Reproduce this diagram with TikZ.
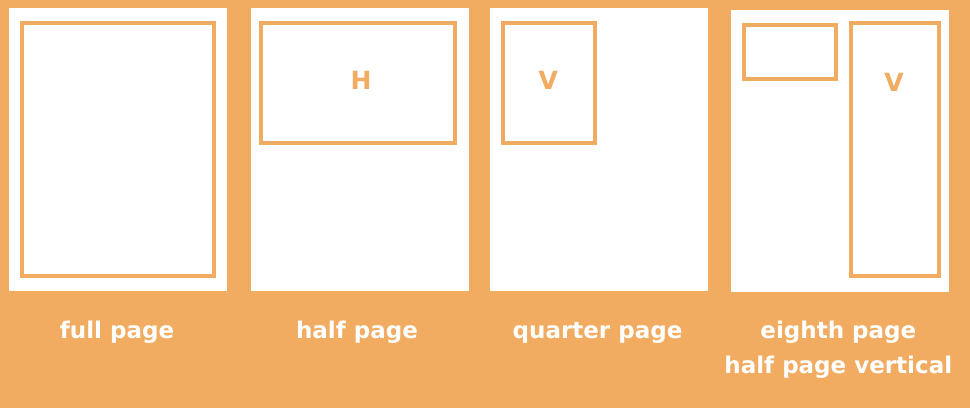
\documentclass[tikz,border=0pt]{standalone}
\usepackage{fontspec}
\setmainfont{DejaVu Sans}
\definecolor{bgorange}{RGB}{241,172,98}
\begin{document}
\begin{tikzpicture}[x=1pt,y=-1pt,
  page/.style={rectangle,fill=white,draw=none,inner sep=0pt},
  frame/.style={rectangle,draw=bgorange,line width=4pt,fill=none,inner sep=0pt},
  letter/.style={text=bgorange,font=\fontsize{25}{25}\selectfont\bfseries,inner sep=0pt},
  caption/.style={text=white,font=\fontsize{23}{36}\selectfont\bfseries,inner sep=0pt,align=center,anchor=base}]
\fill[bgorange] (0,0) rectangle (970,408);
\useasboundingbox (0,0) rectangle (970,408);
% page 1: full page
\node[page,minimum width=218pt,minimum height=282.5pt] (p1) at (118,149.3) {};
\node[frame,minimum width=192pt,minimum height=252.5pt] (f1) at (118,149.3) {};
% page 2: half page
\node[page,minimum width=218pt,minimum height=282.5pt] (p2) at (359.7,149.3) {};
\node[frame,minimum width=194pt,minimum height=120pt] (f2) at (358.3,83.2) {};
\node[letter] (h2) at (361,80) {H};
% page 3: quarter page
\node[page,minimum width=218pt,minimum height=282.3pt] (p3) at (599.2,149.5) {};
\node[frame,minimum width=92pt,minimum height=120pt] (f3) at (548.7,83.3) {};
\node[letter] (v3) at (548.3,80.5) {V};
% page 4: eighth page / half page vertical
\node[page,minimum width=218.3pt,minimum height=282.3pt] (p4) at (840.2,151.2) {};
\node[frame,minimum width=92pt,minimum height=53.7pt] (f4a) at (789.7,52.2) {};
\node[frame,minimum width=88pt,minimum height=252.4pt] (f4b) at (894.7,149.5) {};
\node[letter] (v4) at (894,82) {V};
% captions
\node[caption] (c1) at (117,338) {full page};
\node[caption] (c2) at (357,338) {half page};
\node[caption] (c3) at (597.5,338) {quarter page};
\node[caption] (c4) at (838.3,338) {eighth page};
\node[caption] (c5) at (838.3,373.5) {half page vertical};
\end{tikzpicture}
\end{document}
